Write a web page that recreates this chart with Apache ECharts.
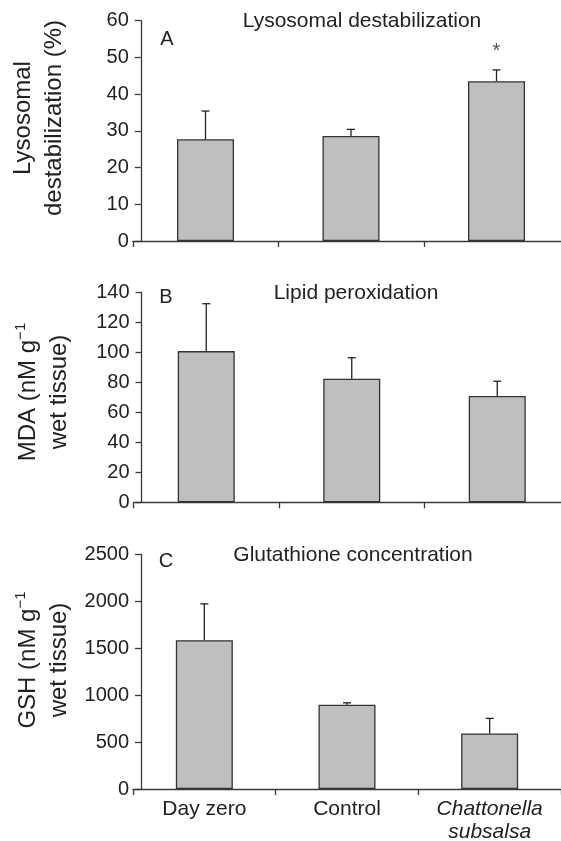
<!DOCTYPE html>
<html>
<head>
<meta charset="utf-8">
<script src="https://cdn.jsdelivr.net/npm/echarts@6.0.0/dist/echarts.min.js"></script>
<style>
  html, body { margin: 0; padding: 0; background: #fff; }
  #main { width: 561px; height: 841px; }
</style>
</head>
<body>
<div id="main"></div>
<script>
// groups on the x axis
var categories = ['Day zero', 'Control', 'Chattonella subsalsa'];

// A: lysosomal destabilization (%)
var lysoMean = [27.7, 28.6, 43.5];
var lysoSd = [7.7, 1.8, 3.1];
var lysoMarks = ['', '', '*'];
var lysoTicks = { min: 0, max: 60, interval: 10 };

// B: lipid peroxidation, MDA (nM g-1 wet tissue)
var mdaMean = [100.8, 82.4, 70.9];
var mdaSd = [31.6, 14.0, 9.8];
var mdaTicks = { min: 0, max: 140, interval: 20 };

// C: glutathione, GSH (nM g-1 wet tissue)
var gshMean = [1585, 897, 592];
var gshSd = [387, 21, 160];
var gshTicks = { min: 0, max: 2500, interval: 500 };

var FONT = '"Liberation Sans", Arial, sans-serif';
var INK = '#222';
var AXIS = '#3a3a3a';

var chart = echarts.init(document.getElementById('main'), null, { renderer: 'canvas' });

function errorData(mean, sd) {
  return mean.map(function (m, i) { return [i, m, sd[i]]; });
}

function renderError(params, api) {
  var x = api.value(0);
  var m = api.value(1);
  var s = api.value(2);
  var p0 = api.coord([x, m]);
  var p1 = api.coord([x, m + s]);
  var st = { stroke: INK, lineWidth: 1.3 };
  return {
    type: 'group',
    children: [
      { type: 'line', shape: { x1: p0[0], y1: p0[1], x2: p1[0], y2: p1[1] }, style: st },
      { type: 'line', shape: { x1: p1[0] - 4, y1: p1[1], x2: p1[0] + 4, y2: p1[1] }, style: st }
    ]
  };
}

function xAx(idx, showLabel) {
  return {
    type: 'category',
    gridIndex: idx,
    data: categories,
    axisLine: { lineStyle: { color: AXIS, width: 1.3 } },
    axisTick: { show: true, length: 6, lineStyle: { color: AXIS, width: 1.3 } },
    axisLabel: {
      show: showLabel,
      interval: 0,
      margin: 9,
      color: INK,
      fontFamily: FONT,
      fontSize: 21,
      lineHeight: 23,
      formatter: function (v) {
        if (v === 'Chattonella subsalsa') return '{i|Chattonella}\n{i|subsalsa}';
        return v;
      },
      rich: { i: { fontStyle: 'italic', fontFamily: FONT, fontSize: 21, lineHeight: 23, color: INK } }
    }
  };
}

function yAx(idx, t) {
  return {
    type: 'value',
    gridIndex: idx,
    min: t.min,
    max: t.max,
    interval: t.interval,
    offset: -8,
    splitLine: { show: false },
    axisLine: { show: true, lineStyle: { color: AXIS, width: 1.3 } },
    axisTick: { show: true, length: 6, lineStyle: { color: AXIS, width: 1.3 } },
    axisLabel: {
      margin: 12, color: INK, fontFamily: FONT, fontSize: 20,
      formatter: function (v) { return String(v); }
    }
  };
}

function barSeries(idx, mean) {
  return {
    type: 'bar',
    xAxisIndex: idx,
    yAxisIndex: idx,
    data: mean,
    barWidth: 57,
    itemStyle: { color: '#bebfc1', borderColor: '#333', borderWidth: 1.3 },
    silent: true
  };
}

function errSeries(idx, mean, sd) {
  return {
    type: 'custom',
    xAxisIndex: idx,
    yAxisIndex: idx,
    data: errorData(mean, sd),
    renderItem: renderError,
    z: 5,
    silent: true
  };
}

function txt(x, y, s, size, extra) {
  var o = {
    type: 'text',
    x: x,
    y: y,
    style: {
      text: s,
      fill: INK,
      font: size + 'px ' + FONT,
      align: 'center',
      verticalAlign: 'middle'
    }
  };
  if (extra) {
    for (var k in extra) o.style[k] = extra[k];
  }
  return o;
}

function yName(x, y, s) {
  var t = txt(x, y, s, 24, {
    lineHeight: 31,
    rich: {
      n: { font: '24px ' + FONT, fill: INK, lineHeight: 31 },
      s: { font: '15px ' + FONT, fill: INK, lineHeight: 31, verticalAlign: 'top', padding: [0, 0, 8, 0] }
    }
  });
  t.rotation = Math.PI / 2;
  return t;
}

var starData = [];
lysoMarks.forEach(function (m, i) {
  if (m) starData.push({ value: [i, lysoMean[i] + lysoSd[i]], mark: m });
});

var option = {
  animation: false,
  backgroundColor: '#fff',
  grid: [
    { left: 132.75, top: 20.7, width: 436.5, height: 220.3, outerBoundsMode: 'none' },
    { left: 133.5, top: 292.3, width: 436.5, height: 210, outerBoundsMode: 'none' },
    { left: 133, top: 554.3, width: 428, height: 234.7, outerBoundsMode: 'none' }
  ],
  xAxis: [xAx(0, false), xAx(1, false), xAx(2, true)],
  yAxis: [yAx(0, lysoTicks), yAx(1, mdaTicks), yAx(2, gshTicks)],
  series: [
    barSeries(0, lysoMean),
    errSeries(0, lysoMean, lysoSd),
    {
      type: 'scatter',
      xAxisIndex: 0,
      yAxisIndex: 0,
      data: starData,
      symbolSize: 0,
      silent: true,
      label: {
        show: true,
        position: 'top',
        distance: 8,
        color: INK,
        fontFamily: FONT,
        fontSize: 20,
        formatter: function (p) { return p.data.mark; }
      }
    },
    barSeries(1, mdaMean),
    errSeries(1, mdaMean, mdaSd),
    barSeries(2, gshMean),
    errSeries(2, gshMean, gshSd)
  ],
  graphic: [
    txt(362, 21, 'Lysosomal destabilization', 21),
    txt(167, 39, 'A', 20),
    txt(356, 293, 'Lipid peroxidation', 21),
    txt(166, 297, 'B', 20),
    txt(353, 555, 'Glutathione concentration', 21),
    txt(166, 561, 'C', 20),
    yName(39, 118, 'Lysosomal\ndestabilization (%)'),
    yName(44, 392, '{n|MDA (nM g}{s|−1}\n{n|wet tissue)}'),
    yName(44, 660, '{n|GSH (nM g}{s|−1}\n{n|wet tissue)}')
  ]
};

chart.setOption(option);
</script>
</body>
</html>
